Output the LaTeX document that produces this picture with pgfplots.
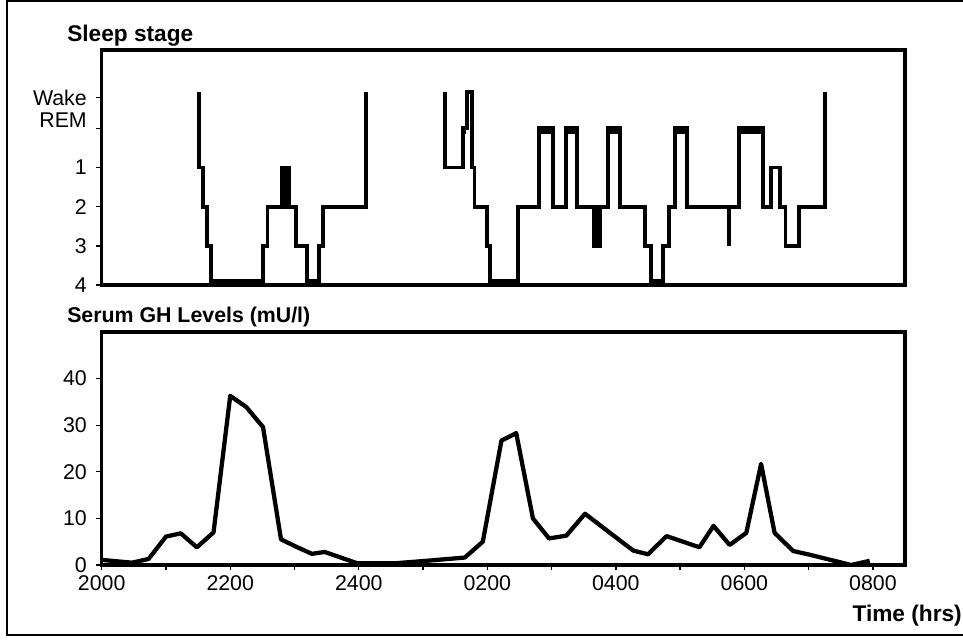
\documentclass[border=0pt]{standalone}
\usepackage{fontspec}
\setmainfont{Liberation Sans}
\usepackage{pgfplots}
\pgfplotsset{compat=1.18}

% hypnogram: stage 4 -> 0.1, 3 -> 1, 2 -> 2, 1 -> 3, REM -> 4, Wake -> 4.93
\pgfplotstableread{
h s
1.51 4.93
1.51 3
1.57 3
1.57 2
1.64 2
1.64 1
1.70 1
1.70 0.1
2.51 0.1
2.51 1
2.58 1
2.58 2
2.81 2
2.81 3
2.86 3
2.86 2
2.88 2
2.88 3
2.92 3
2.92 2
3.03 2
3.03 1
3.20 1
3.20 0.1
3.38 0.1
3.38 1
3.45 1
3.45 2
4.11 2
4.11 4.93
4.70 nan
5.34 4.93
5.34 3
5.62 3
5.62 4
5.68 4
5.68 4.93
5.76 4.93
5.76 3
5.80 3
5.80 2
5.99 2
5.99 1
6.04 1
6.04 0.1
6.48 0.1
6.48 2
6.81 2
6.81 4
7.02 4
7.02 2
7.23 2
7.23 4
7.40 4
7.40 2
7.66 2
7.66 1
7.70 1
7.70 2
7.72 2
7.72 1
7.75 1
7.75 2
7.88 2
7.88 4
8.06 4
8.06 2
8.46 2
8.46 1
8.55 1
8.55 0.1
8.73 0.1
8.73 1
8.83 1
8.83 2
8.92 2
8.92 4
9.11 4
9.11 2
9.76 2
9.76 1
9.76 2
9.92 2
9.92 4
10.29 4
10.29 2
10.42 2
10.42 3
10.55 3
10.55 2
10.64 2
10.64 1
10.85 1
10.85 2
11.26 2
11.26 4.93
}\hypno

% lower edge of the thick REM bands
\pgfplotstableread{
h s
5.62 3.9
5.67 3.9
5.7 nan
6.81 3.9
7.02 3.9
7.1 nan
7.23 3.9
7.40 3.9
7.5 nan
7.88 3.9
8.06 3.9
8.5 nan
8.92 3.9
9.11 3.9
9.5 nan
9.92 3.9
10.29 3.9
}\remband

% serum GH, mU/l, hours after 2000
\pgfplotstableread{
h gh
0.00 1.1
0.47 0.5
0.73 1.3
1.00 6.1
1.23 6.8
1.48 3.8
1.74 7.0
2.00 36.3
2.25 33.9
2.51 29.6
2.79 5.5
3.03 3.9
3.27 2.4
3.47 2.8
3.97 0.4
4.59 0.4
5.05 0.9
5.65 1.6
5.93 5.0
6.22 26.7
6.45 28.3
6.71 10.0
6.96 5.7
7.23 6.3
7.52 11.0
8.27 3.1
8.50 2.3
8.79 6.2
9.30 3.8
9.52 8.4
9.77 4.3
10.03 6.9
10.26 21.7
10.47 6.9
10.76 3.0
11.02 2.2
11.66 0.0
11.95 0.9
}\gh

\pgfplotsset{
  panel/.style={
    scale only axis, width=602.5pt,
    xmin=0, xmax=12.5,
    axis line style={line width=2.4pt},
    tick align=outside, tick pos=left,
    major tick length=4pt, minor tick length=4pt,
    every tick/.style={black, line width=1pt},
    tick label style={font=\fontsize{16}{19}\selectfont, inner sep=0pt},
    yticklabel style={xshift=-7pt},
    /pgf/number format/assume math mode=true,
  },
}

\begin{document}
\begin{tikzpicture}
  \useasboundingbox (0pt,0pt) rectangle (722.25pt,-480pt);
  \draw[line width=1.7pt] (723pt,-0.75pt) -- (5.25pt,-0.75pt) -- (5.25pt,-476.25pt) -- (723pt,-476.25pt);

  \node[anchor=base west, inner sep=0pt, font=\bfseries\fontsize{17}{20}\selectfont]
    at (50.25pt,-31.1pt) {Sleep stage};
  \node[anchor=base west, inner sep=0pt, font=\bfseries\fontsize{16}{20}\selectfont]
    at (50.25pt,-241.5pt) {Serum GH Levels (mU/l)};
  \node[anchor=base east, inner sep=0pt, font=\bfseries\fontsize{17}{20}\selectfont]
    at (721.5pt,-465.75pt) {Time (hrs)};

  \begin{axis}[panel,
      at={(76.275pt,-213.75pt)}, anchor=south west,
      height=176.25pt,
      ymin=0, ymax=6,
      xtick=\empty,
      ytick={0,1,2,3,4.78},
      yticklabels={4,3,2,1,Wake},
      extra y ticks={4},
      extra y tick labels={REM},
      extra y tick style={yticklabel style={yshift=6pt}},
      unbounded coords=jump,
    ]
    \addplot[black, line width=2.9pt, line join=miter, line cap=butt] table[x=h, y=s] {\hypno};
    \addplot[black, line width=2.9pt, line cap=butt] table[x=h, y=s] {\remband};
  \end{axis}

  \begin{axis}[panel,
      at={(76.275pt,-423.75pt)}, anchor=south west,
      height=174.75pt,
      ymin=0, ymax=50,
      ytick={0,10,20,30,40},
      xtick={0,2,4,6,8,10,12},
      xticklabels={2000,2200,2400,0200,0400,0600,0800},
      minor xtick={1,3,5,7,9,11},
      xticklabel style={yshift=-4pt},
    ]
    \addplot[black, line width=3.2pt, line join=round] table[x=h, y=gh] {\gh};
  \end{axis}
\end{tikzpicture}
\end{document}
